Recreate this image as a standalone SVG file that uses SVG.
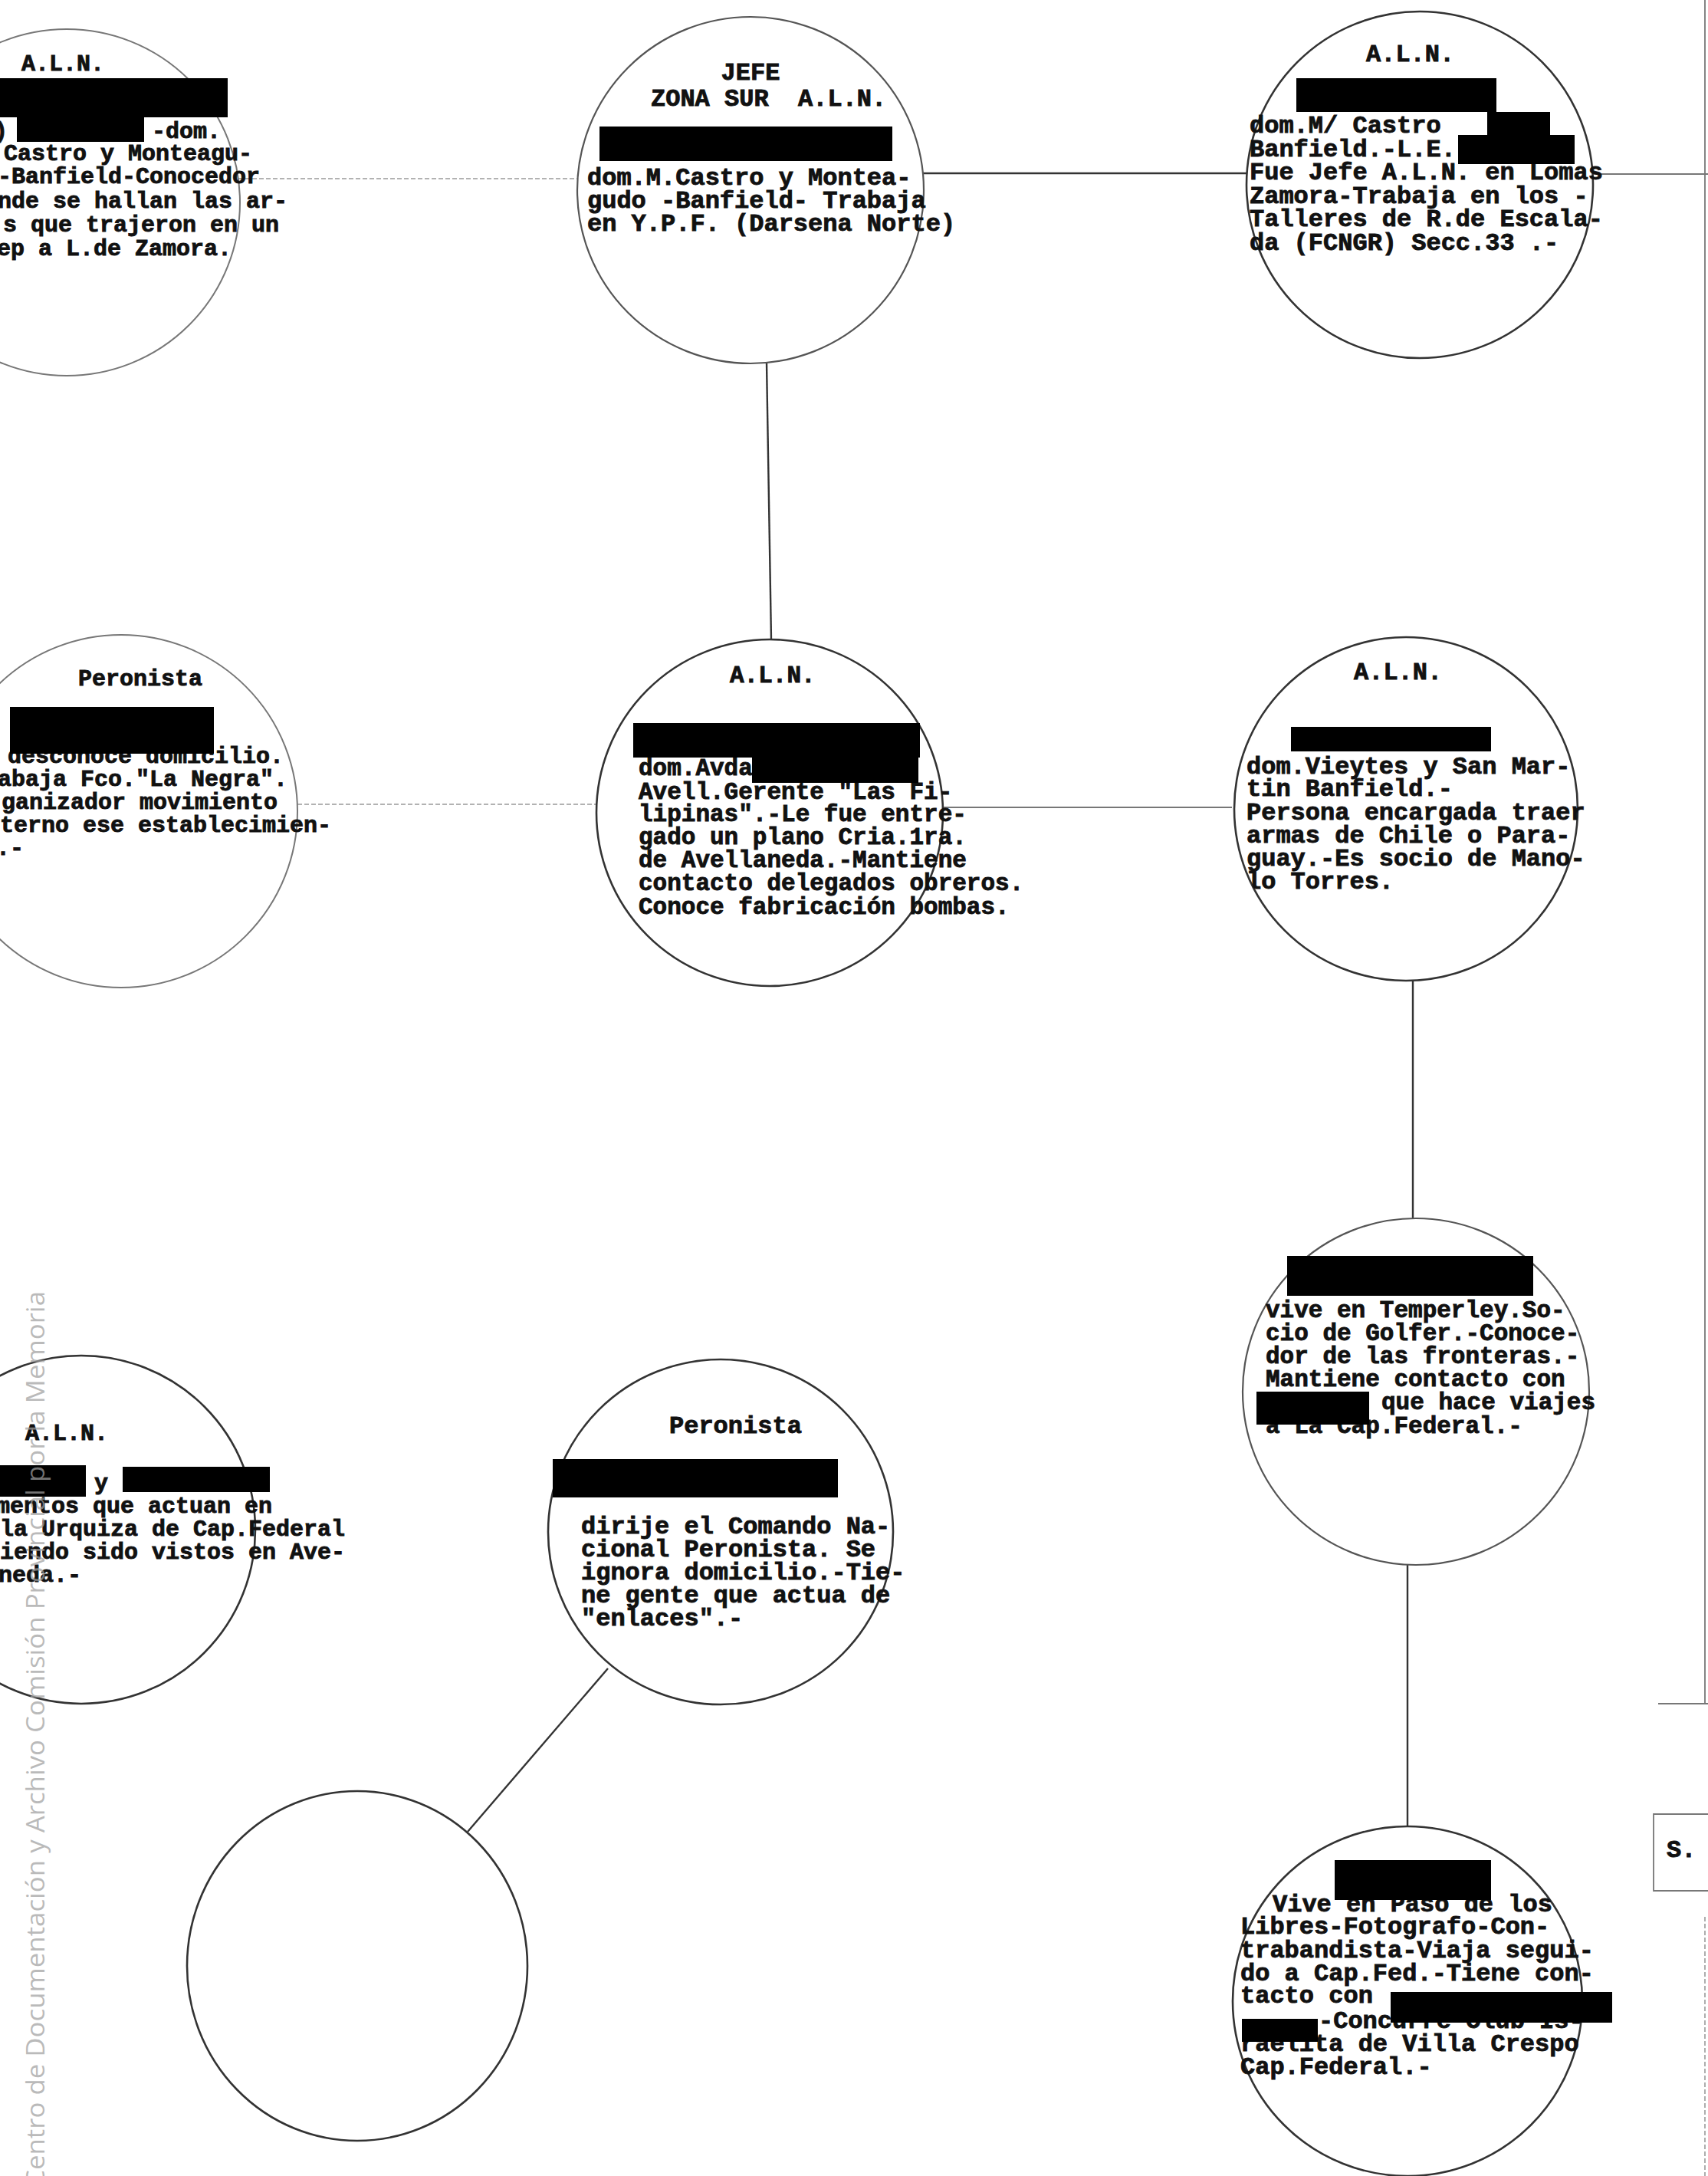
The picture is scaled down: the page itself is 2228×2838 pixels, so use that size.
<svg xmlns="http://www.w3.org/2000/svg" width="2228" height="2838" viewBox="0 0 2228 2838">
<style>
.tw{font-family:"Liberation Mono","Courier New",monospace;font-weight:bold;fill:#111;stroke:#111;stroke-width:0.9}
.f30{font-size:30px}.f31{font-size:31px}.f32{font-size:32px}
.ring{fill:none;stroke:#333;stroke-width:2.6}
.ring.faint{stroke:#777;stroke-width:2}
.ring.mid{stroke:#555;stroke-width:2.2}
.red{fill:#000}
.con{fill:none;stroke:#333;stroke-width:2.4}
.con.faint{stroke:#999;stroke-width:1.6;stroke-dasharray:6 3}
.con.mid{stroke:#777;stroke-width:1.8}
.wm{font-family:"Open Sans","Noto Sans",sans-serif;font-size:33px;fill:#a0a0a0;fill-opacity:0.72}
</style>
<rect x="0" y="0" width="2228" height="2838" fill="#fff"/>

<g id="connectors">
  <line class="con faint" x1="311" y1="233" x2="753" y2="233"/>
  <line class="con" x1="1204" y1="226" x2="1627" y2="226"/>
  <line class="con mid" x1="2077" y1="227" x2="2228" y2="227"/>
  <line class="con" x1="1000" y1="473" x2="1006" y2="834"/>
  <line class="con faint" x1="388" y1="1049" x2="778" y2="1049"/>
  <line class="con mid" x1="1230" y1="1053" x2="1607" y2="1053"/>
  <line class="con" x1="1843" y1="1279" x2="1843" y2="1589"/>
  <line class="con" x1="1836" y1="2041" x2="1836" y2="2382"/>
  <line class="con" x1="793" y1="2176" x2="610" y2="2389"/>
  <line class="con mid" x1="2224" y1="0" x2="2224" y2="2222"/>
  <line class="con mid" x1="2163" y1="2222" x2="2228" y2="2222"/>
  <line class="con faint" x1="2224" y1="2500" x2="2224" y2="2838"/>
</g>

<g id="node-a">
  <circle class="ring faint" cx="87" cy="264" r="226"/>
  <text class="tw f30" x="28" y="92">A.L.N.</text>
  <text class="tw f30" x="-8" y="180">)</text>
  <text class="tw f30" x="198" y="180">-dom.</text>
  <text class="tw f30" x="5" y="209">Castro y Monteagu-</text>
  <text class="tw f30" x="-3" y="239">-Banfield-Conocedor</text>
  <text class="tw f30" x="-3" y="271">nde se hallan las ar-</text>
  <text class="tw f30" x="4" y="302">s que trajeron en un</text>
  <text class="tw f30" x="-4" y="333">ep a L.de Zamora.</text>
  <rect class="red" x="0" y="102" width="297" height="51"/>
  <rect class="red" x="22" y="153" width="166" height="32"/>
</g>

<g id="node-b">
  <circle class="ring mid" cx="979" cy="248" r="226"/>
  <text class="tw f32" x="979" y="104" text-anchor="middle">JEFE</text>
  <text class="tw f32" x="849" y="138" xml:space="preserve">ZONA SUR  A.L.N.</text>
  <text class="tw f32" x="766" y="241">dom.M.Castro y Montea-</text>
  <text class="tw f32" x="766" y="271">gudo -Banfield- Trabaja</text>
  <text class="tw f32" x="766" y="301">en Y.P.F. (Darsena Norte)</text>
  <rect class="red" x="782" y="165" width="382" height="45"/>
</g>

<g id="node-c">
  <circle class="ring" cx="1852" cy="241" r="226"/>
  <text class="tw f32" x="1782" y="80">A.L.N.</text>
  <text class="tw f32" x="1630" y="173">dom.M/ Castro</text>
  <text class="tw f32" x="1630" y="204">Banfield.-L.E.</text>
  <text class="tw f32" x="1630" y="234">Fue Jefe A.L.N. en Lomas</text>
  <text class="tw f32" x="1630" y="265">Zamora-Trabaja en los -</text>
  <text class="tw f32" x="1630" y="295">Talleres de R.de Escala-</text>
  <text class="tw f32" x="1630" y="326">da (FCNGR) Secc.33 .-</text>
  <rect class="red" x="1691" y="102" width="261" height="44"/>
  <rect class="red" x="1940" y="146" width="82" height="30"/>
  <rect class="red" x="1902" y="176" width="152" height="38"/>
</g>

<g id="node-d">
  <circle class="ring" cx="1004" cy="1060" r="226"/>
  <text class="tw f31" x="952" y="890">A.L.N.</text>
  <text class="tw f31" x="833" y="1011">dom.Avda</text>
  <text class="tw f31" x="833" y="1042">Avell.Gerente "Las Fi-</text>
  <text class="tw f31" x="833" y="1071">lipinas".-Le fue entre-</text>
  <text class="tw f31" x="833" y="1101">gado un plano Cria.1ra.</text>
  <text class="tw f31" x="833" y="1131">de Avellaneda.-Mantiene</text>
  <text class="tw f31" x="833" y="1161">contacto delegados obreros.</text>
  <text class="tw f31" x="833" y="1192">Conoce fabricación bombas.</text>
  <rect class="red" x="826" y="943" width="374" height="45"/>
  <rect class="red" x="981" y="988" width="217" height="33"/>
</g>

<g id="node-e">
  <circle class="ring faint" cx="158" cy="1058" r="230"/>
  <text class="tw f30" x="102" y="894">Peronista</text>
  <text class="tw f30" x="10" y="995">desconoce domicilio.</text>
  <text class="tw f30" x="-3" y="1025">abaja Fco."La Negra".</text>
  <text class="tw f30" x="2" y="1055">ganizador movimiento</text>
  <text class="tw f30" x="0" y="1085">terno ese establecimien-</text>
  <text class="tw f30" x="-5" y="1115">.-</text>
  <rect class="red" x="13" y="922" width="266" height="61"/>
</g>

<g id="node-f">
  <circle class="ring" cx="1834" cy="1055" r="224"/>
  <text class="tw f32" x="1766" y="886">A.L.N.</text>
  <text class="tw f32" x="1626" y="1009">dom.Vieytes y San Mar-</text>
  <text class="tw f32" x="1626" y="1038">tin Banfield.-</text>
  <text class="tw f32" x="1626" y="1069">Persona encargada traer</text>
  <text class="tw f32" x="1626" y="1099">armas de Chile o Para-</text>
  <text class="tw f32" x="1626" y="1129">guay.-Es socio de Mano-</text>
  <text class="tw f32" x="1626" y="1159">lo Torres.</text>
  <rect class="red" x="1684" y="948" width="261" height="32"/>
</g>

<g id="node-g">
  <circle class="ring mid" cx="1847" cy="1815" r="226"/>
  <text class="tw f31" x="1651" y="1718">vive en Temperley.So-</text>
  <text class="tw f31" x="1651" y="1748">cio de Golfer.-Conoce-</text>
  <text class="tw f31" x="1651" y="1778">dor de las fronteras.-</text>
  <text class="tw f31" x="1651" y="1808">Mantiene contacto con</text>
  <text class="tw f31" x="1802" y="1838">que hace viajes</text>
  <text class="tw f31" x="1651" y="1869">a La Cap.Federal.-</text>
  <rect class="red" x="1679" y="1638" width="321" height="52"/>
  <rect class="red" x="1639" y="1815" width="147" height="43"/>
</g>

<g id="node-h">
  <circle class="ring" cx="1836" cy="2610" r="228"/>
  <text class="tw f32" x="1660" y="2493">Vive en Paso de los</text>
  <text class="tw f32" x="1618" y="2522">Libres-Fotografo-Con-</text>
  <text class="tw f32" x="1618" y="2553">trabandista-Viaja segui-</text>
  <text class="tw f32" x="1618" y="2583">do a Cap.Fed.-Tiene con-</text>
  <text class="tw f32" x="1618" y="2612">tacto con</text>
  <text class="tw f32" x="1720" y="2645">-Concurre Club Is-</text>
  <text class="tw f32" x="1618" y="2675">raelita de Villa Crespo</text>
  <text class="tw f32" x="1618" y="2705">Cap.Federal.-</text>
  <rect class="red" x="1741" y="2426" width="204" height="52"/>
  <rect class="red" x="1814" y="2598" width="289" height="40"/>
  <rect class="red" x="1620" y="2633" width="99" height="30"/>
</g>

<g id="node-i">
  <circle class="ring" cx="106" cy="1995" r="227"/>
  <text class="tw f30" x="33" y="1878">A.L.N.</text>
  <text class="tw f30" x="123" y="1943">y</text>
  <text class="tw f30" x="-5" y="1973">mentos que actuan en</text>
  <text class="tw f30" x="0" y="2003">la Urquiza de Cap.Federal</text>
  <text class="tw f30" x="0" y="2033">iendo sido vistos en Ave-</text>
  <text class="tw f30" x="-2" y="2063">neda.-</text>
  <rect class="red" x="0" y="1911" width="112" height="41"/>
  <rect class="red" x="160" y="1913" width="192" height="33"/>
</g>

<g id="node-j">
  <circle class="ring" cx="940" cy="1998" r="225"/>
  <text class="tw f32" x="873" y="1869">Peronista</text>
  <text class="tw f32" x="758" y="2000">dirije el Comando Na-</text>
  <text class="tw f32" x="758" y="2030">cional Peronista. Se</text>
  <text class="tw f32" x="758" y="2060">ignora domicilio.-Tie-</text>
  <text class="tw f32" x="758" y="2090">ne gente que actua de</text>
  <text class="tw f32" x="758" y="2120">"enlaces".-</text>
  <rect class="red" x="721" y="1903" width="372" height="50"/>
</g>

<g id="node-k">
  <ellipse class="ring" cx="466" cy="2564" rx="222" ry="228"/>
</g>

<g id="node-s">
  <polyline class="con mid" points="2228,2366 2157,2366 2157,2466 2228,2466"/>
  <text class="tw f32" x="2174" y="2422">S.</text>
</g>

<text class="wm" transform="translate(58,2852) rotate(-90)" textLength="1168" lengthAdjust="spacingAndGlyphs">Centro de Documentación y Archivo Comisión Provincial por la Memoria</text>
</svg>
